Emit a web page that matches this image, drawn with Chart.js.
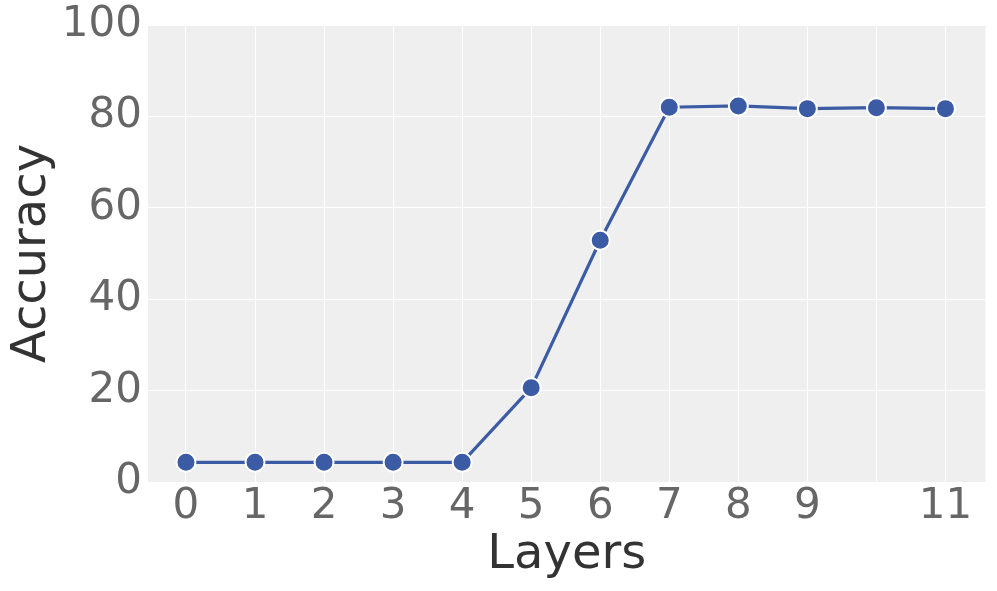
<!DOCTYPE html>
<html>
<head>
<meta charset="utf-8">
<script src="https://cdn.jsdelivr.net/npm/chart.js@4"></script>
<style>
  body { margin: 0; background: #fff; }
  #wrap { width: 997px; height: 591px; }
</style>
</head>
<body>
<div id="wrap"><canvas id="chart"></canvas></div>
<script>
// layer index and accuracy
var layers = [0, 1, 2, 3, 4, 5, 6, 7, 8, 9, 10, 11];
var accuracy = [4.3, 4.3, 4.3, 4.3, 4.3, 20.6, 52.9, 82.0, 82.3, 81.7, 81.9, 81.7];
var xTickLabels = ['0', '1', '2', '3', '4', '5', '6', '7', '8', '9', '', '11'];
var yTicks = [0, 20, 40, 60, 80, 100];

var points = layers.map(function (l, i) { return { x: l, y: accuracy[i] }; });

// gray panel behind the plot
var panelBg = {
  id: 'panelBg',
  beforeDraw: function (chart) {
    var a = chart.chartArea, ctx = chart.ctx;
    ctx.save();
    ctx.fillStyle = '#efefef';
    ctx.fillRect(a.left, a.top, a.right - a.left, a.bottom - a.top);
    ctx.restore();
  }
};

new Chart(document.getElementById('chart'), {
  type: 'line',
  data: {
    datasets: [{
      data: points,
      borderColor: '#3b5ba5',
      backgroundColor: '#3b5ba5',
      borderWidth: 3.2,
      pointRadius: 9.5,
      pointBorderWidth: 2,
      pointBorderColor: '#ffffff',
      pointBackgroundColor: '#3b5ba5',
      tension: 0
    }]
  },
  options: {
    responsive: true,
    maintainAspectRatio: false,
    animation: false,
    layout: { padding: { top: 25, right: 10, left: 3, bottom: 0 } },
    plugins: { legend: { display: false }, tooltip: { enabled: false } },
    scales: {
      x: {
        type: 'linear',
        min: -0.55,
        max: 11.58,
        afterBuildTicks: function (axis) {
          axis.ticks = layers.map(function (v) { return { value: v }; });
        },
        afterFit: function (axis) { axis.height = 109; },
        ticks: {
          color: '#666666',
          font: { family: 'DejaVu Sans', size: 42 },
          padding: 0,
          maxRotation: 0,
          autoSkip: false,
          callback: function (v) { return xTickLabels[layers.indexOf(v)]; }
        },
        grid: { color: '#ffffff', lineWidth: 1, drawTicks: false },
        border: { display: false },
        title: {
          display: true,
          text: 'Layers',
          color: '#333333',
          font: { family: 'DejaVu Sans', size: 48, lineHeight: 1.0 },
          padding: { top: 0, bottom: 11 }
        }
      },
      y: {
        min: 0,
        max: 100,
        afterBuildTicks: function (axis) {
          axis.ticks = yTicks.map(function (v) { return { value: v }; });
        },
        afterFit: function (axis) { axis.width = 145; },
        ticks: {
          color: '#666666',
          font: { family: 'DejaVu Sans', size: 42, lineHeight: 0.8 },
          padding: 6
        },
        grid: { color: '#ffffff', lineWidth: 1, drawTicks: false },
        border: { display: false },
        title: {
          display: true,
          text: 'Accuracy',
          color: '#333333',
          font: { family: 'DejaVu Sans', size: 48, lineHeight: 1.0 },
          padding: { top: 6, bottom: 0 }
        }
      }
    }
  },
  plugins: [panelBg]
});
</script>
</body>
</html>
